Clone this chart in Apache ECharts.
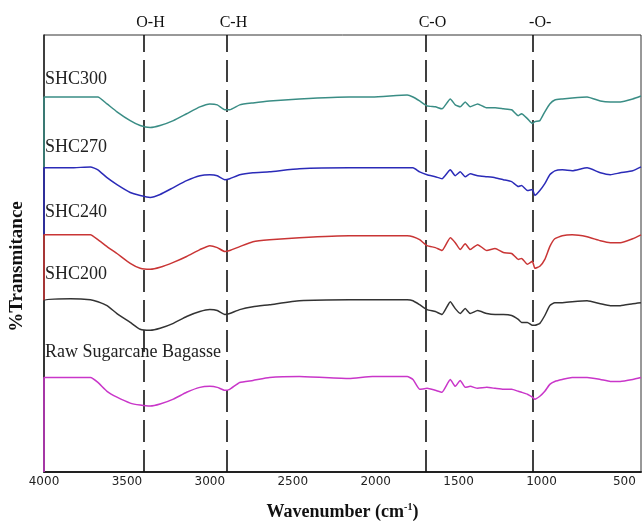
<!DOCTYPE html>
<html>
<head>
<meta charset="utf-8">
<script src="https://cdn.jsdelivr.net/npm/echarts@6/dist/echarts.min.js"></script>
<style>
  html, body { margin: 0; padding: 0; background: #fff; }
  #chart { width: 644px; height: 526px; }
</style>
</head>
<body>
<div id="chart"></div>
<script>
// wavenumber samples (cm-1), shared by all traces
const wavenumbers = [
  4000, 3840, 3720, 3675, 3620, 3560, 3480, 3420, 3360, 3300,
  3220, 3140, 3060, 3000, 2955, 2910, 2880, 2820, 2740, 2640,
  2460, 2160, 2020, 1810, 1775, 1735, 1690, 1640, 1600, 1550,
  1520, 1490, 1460, 1430, 1385, 1330, 1280, 1230, 1180, 1140,
  1120, 1085, 1055, 1040, 1010, 980, 950, 920, 875, 815,
  725, 645, 585, 525, 450, 400
];
// offset transmittance (arbitrary units)
const shc300 = [
  381, 381, 381, 381, 374, 366, 357, 352, 350, 352,
  357, 364, 371, 374, 373, 368, 368, 373, 375, 377,
  379, 381, 381, 383, 381, 377, 372, 371, 369, 379,
  373, 371, 376, 371, 374, 370, 370, 369, 368, 362,
  364, 359, 354, 356, 357, 366, 374, 378, 379, 380,
  381, 377, 376, 376, 379, 382
];
const shc270 = [
  309, 309, 310, 307, 299, 292, 284, 281, 279, 282,
  289, 296, 301, 302, 301, 297, 298, 302, 304, 305,
  308, 309, 309, 309, 309, 305, 302, 300, 298, 307,
  301, 305, 300, 303, 301, 300, 299, 297, 295, 290,
  291, 286, 287, 281, 286, 293, 302, 306, 307, 306,
  309, 304, 302, 304, 306, 310
];
const shc240 = [
  241, 241, 241, 236, 229, 222, 212, 207, 206, 208,
  213, 219, 226, 230, 228, 224, 225, 229, 234, 236,
  238, 240, 240, 240, 239, 236, 230, 228, 225, 238,
  233, 226, 232, 226, 231, 225, 227, 223, 222, 216,
  217, 211, 214, 207, 209, 216, 229, 237, 240, 241,
  239, 235, 233, 233, 237, 241
];
const shc200 = [
  174, 176, 175, 173, 169, 161, 152, 145, 144, 146,
  151, 158, 163, 165, 164, 160, 161, 165, 168, 170,
  174, 175, 175, 175, 174, 170, 165, 163, 160, 173,
  166, 161, 166, 161, 164, 161, 160, 160, 159, 155,
  152, 152, 149, 149, 151, 159, 169, 172, 172, 173,
  174, 171, 169, 169, 171, 172
];
const rawBagasse = [
  96, 96, 96, 91, 82, 76, 70, 68, 67, 69,
  74, 81, 86, 87, 86, 83, 84, 91, 93, 96,
  97, 95, 97, 97, 94, 84, 85, 83, 81, 94,
  87, 93, 86, 87, 85, 86, 85, 84, 84, 82,
  81, 79, 76, 74, 77, 82, 89, 92, 94, 96,
  96, 94, 92, 92, 94, 96
];
// each trace drops at the 4000 edge down to the trace below it
const edgeStart = [309, 241, 174, 96, 0];

const seriesNames = ['SHC300', 'SHC270', 'SHC240', 'SHC200', 'Raw Sugarcane Bagasse'];
const tickLabels = [4000, 3500, 3000, 2500, 2000, 1500, 1000, 500];
const bandPositions = [3400, 2900, 1700, 1050];
const bandNames = ['O-H', 'C-H', 'C-O', '-O-'];

const traces = [shc300, shc270, shc240, shc200, rawBagasse];
const colors = ['#3a8d85', '#2b2bb8', '#c93535', '#333333', '#c936c9'];
const labelLevels = [399, 330, 264, 201, 122];

const series = traces.map((vals, i) => ({
  name: seriesNames[i],
  type: 'line',
  z: 3,
  data: [[4000, edgeStart[i]]].concat(wavenumbers.map((w, j) => [w, vals[j]])),
  symbol: 'none',
  smooth: 0.15,
  lineStyle: { color: colors[i], width: 1.5 },
  itemStyle: { color: colors[i] },
  markPoint: {
    silent: true,
    symbol: 'circle',
    symbolSize: 0,
    data: [{ coord: [4000, labelLevels[i]] }],
    label: {
      show: true,
      position: 'right',
      distance: 1,
      formatter: seriesNames[i],
      fontFamily: 'Liberation Serif',
      fontSize: 18,
      color: '#222',
    },
  },
}));

series[0].markLine = {
  silent: true,
  symbol: 'none',
  z: 2,
  lineStyle: { color: '#111', width: 1.6, type: [22, 8] },
  label: {
    position: 'end',
    formatter: (p) => p.name,
    fontFamily: 'Liberation Serif',
    fontSize: 16,
    color: '#111',
    distance: 4,
    padding: [0, 0, 0, 14],
  },
  data: bandPositions.map((x, i) => ({ name: bandNames[i], xAxis: x })),
};

const chart = echarts.init(document.getElementById('chart'));
chart.setOption({
  animation: false,
  backgroundColor: '#fff',
  grid: {
    left: 44,
    right: 3,
    top: 35,
    bottom: 47,
    show: true,
    borderColor: '#333',
    borderWidth: 1,
  },
  xAxis: {
    type: 'value',
    inverse: true,
    min: 400,
    max: 4000,
    axisLine: { show: true, onZero: false, lineStyle: { color: '#222', width: 2 } },
    axisTick: { show: false },
    splitLine: { show: false },
    axisLabel: {
      customValues: tickLabels,
      formatter: (v) => String(v),
      color: '#222',
      fontFamily: 'DejaVu Sans',
      fontSize: 12,
      margin: 4,
    },
    name: '{t|Wavenumber (cm}{s|-1}{t|)}',
    nameLocation: 'middle',
    nameGap: 30,
    nameTextStyle: {
      rich: {
        t: { fontFamily: 'Liberation Serif', fontWeight: 'bold', fontSize: 18, color: '#111' },
        s: { fontFamily: 'Liberation Serif', fontWeight: 'bold', fontSize: 10, color: '#111', padding: [0, 0, 10, 0] },
      },
    },
  },
  yAxis: {
    type: 'value',
    min: 0,
    max: 444,
    axisLine: { show: true, onZero: false, lineStyle: { color: '#222', width: 1.5 } },
    axisTick: { show: false },
    axisLabel: { show: false },
    splitLine: { show: false },
    name: '%Transmitance',
    nameLocation: 'middle',
    nameGap: 17,
    nameTextStyle: {
      fontFamily: 'Liberation Serif',
      fontWeight: 'bold',
      fontSize: 19,
      color: '#111',
      padding: [0, 26, 0, 0],
    },
  },
  series,
});
window.addEventListener('resize', () => {
  chart.resize();
});
</script>
</body>
</html>
